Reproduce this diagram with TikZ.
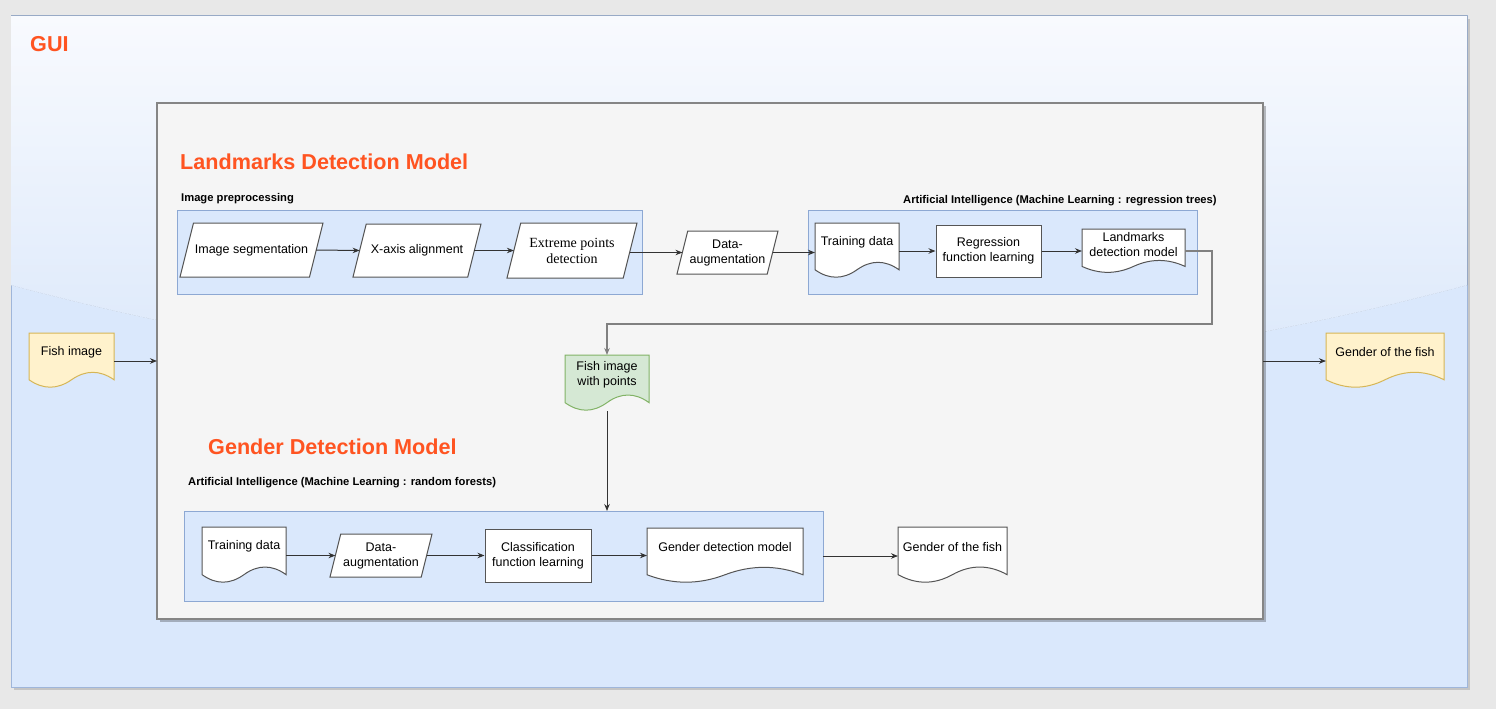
\documentclass[tikz,border=0pt]{standalone}
\usepackage{fontspec}
\setmainfont{Liberation Sans}
\newfontfamily\timesfam{Liberation Serif}
\usetikzlibrary{arrows.meta,shadows,calc}

\definecolor{pagegrey}{HTML}{E8E8E8}
\definecolor{guifill}{HTML}{DAE8FC}
\definecolor{guiline}{HTML}{9FB6DA}
\definecolor{glosstop}{HTML}{F8FAFE}
\definecolor{glossbot}{HTML}{D8E6FA}
\definecolor{glossedge}{HTML}{E0EBFB}
\definecolor{grpline}{HTML}{8DA8D3}
\definecolor{modelfill}{HTML}{F5F5F5}
\definecolor{modelline}{HTML}{858585}
\definecolor{ttl}{HTML}{FF5421}
\definecolor{boxline}{HTML}{555555}
\definecolor{linkgrey}{HTML}{333333}
\definecolor{loopgrey}{HTML}{808080}
\definecolor{yelfill}{HTML}{FFF2CC}
\definecolor{yelline}{HTML}{D6B656}
\definecolor{grnfill}{HTML}{D5E8D4}
\definecolor{grnline}{HTML}{82B366}

\pgfdeclarelayer{back}
\pgfdeclarelayer{mid}
\pgfsetlayers{back,mid,main}

\tikzset{
  box/.style={rectangle, draw=boxline, line width=1pt, fill=white, inner sep=1pt, align=center, font=\fontsize{12.5}{15}\selectfont},
  slant/.style={rectangle, inner sep=1pt, outer sep=0pt, align=center, font=\fontsize{12.5}{15}\selectfont},
  doc/.style={rectangle, inner sep=1pt, outer sep=0pt, align=center, font=\fontsize{12.5}{15}\selectfont},
  group/.style={rectangle, draw=grpline, fill=guifill, line width=1pt, inner sep=0pt, outer sep=0pt},
  title/.style={anchor=base west, inner sep=0pt, text=ttl, font=\bfseries\fontsize{21.6}{26}\selectfont},
  caption/.style={anchor=base west, inner sep=0pt, font=\bfseries\fontsize{11.2}{13}\selectfont},
  link/.style={-{Stealth[length=7pt, width=5.5pt]}, line width=1pt, draw=linkgrey},
}

% wavy lower edge of a document node, drawn below the text
\newcommand{\docframe}[3]{%
  \begin{pgfonlayer}{mid}
  \path[fill=#2, draw=#3, line width=1pt]
    let \p1=(#1.north west), \p2=(#1.south east), \n1={(\y1-\y2)/0.7}, \n2={\x2-\x1} in
    (\p1) -- (\x2,\y1) -- (\x2,{\y1-0.85*\n1})
    .. controls ({\x2-\n2/6},{\y1-0.67*\n1}) and ({\x1+2*\n2/3},{\y1-0.67*\n1}) .. ({\x1+\n2/2},{\y1-0.85*\n1})
    .. controls ({\x1+\n2/3},{\y1-1.03*\n1}) and ({\x1+\n2/6},{\y1-1.03*\n1}) .. (\x1,{\y1-0.85*\n1})
    -- cycle;
  \end{pgfonlayer}}

% leaning outline of a data node
\newcommand{\slantframe}[1]{%
  \begin{pgfonlayer}{mid}
  \path[fill=white, draw=boxline, line width=1pt]
    let \p1=(#1.north west), \p2=(#1.south east), \n1={(\y1-\y2)/4} in
    ({\x1+\n1},\y1) -- (\x2,\y1) -- ({\x2-\n1},\y2) -- (\x1,\y2) -- cycle;
  \end{pgfonlayer}}

\begin{document}
\begin{tikzpicture}[x=1pt, y=-1pt]
    \begin{pgfonlayer}{back}
        \fill[pagegrey] (0,0) rectangle (1496,709);
        \node[group, draw=guiline, minimum width=1456pt, minimum height=671pt, drop shadow={shadow xshift=3pt, shadow yshift=-3pt, fill=black, opacity=0.15}] (gui) at (739,351.5) {};
        \fill[top color=glosstop, bottom color=glossbot] (gui.north west) -- (gui.north east) -- (1467,285) .. controls (981.7,414.3) and (496.3,414.3) .. (11,285) -- cycle;
        \draw[glossedge, line width=0.8pt] (1467,285) .. controls (981.7,414.3) and (496.3,414.3) .. (11,285);
        \node[rectangle, draw=modelline, fill=modelfill, line width=1.2pt, inner sep=0pt, outer sep=0pt, minimum width=1106pt, minimum height=516pt, drop shadow={shadow xshift=2.5pt, shadow yshift=-2.5pt, fill=black, opacity=0.25}] (model) at (710,361) {};
        \node[group, minimum width=465pt, minimum height=84pt] (prep) at (409.5,252) {};
        \node[group, minimum width=389pt, minimum height=84pt] (regtrees) at (1002.5,252) {};
        \node[group, minimum width=639pt, minimum height=90pt] (forests) at (503.5,556) {};
    \end{pgfonlayer}
    \useasboundingbox (0,0) rectangle (1496,709);

    \node[title] (guititle) at (30,52) {GUI};
    \node[title] (ldmtitle) at (180,169) {Landmarks Detection Model};
    \node[title] (gdmtitle) at (208,454) {Gender Detection Model};
    \node[caption] (preptitle) at (181,201) {Image preprocessing};
    \node[caption] (regtitle) at (903,203) {Artificial Intelligence (Machine Learning : regression trees)};
    \node[caption] (fortitle) at (188,485) {Artificial Intelligence (Machine Learning : random forests)};

    \node[slant, minimum width=143pt, minimum height=54pt] (seg) at (251.5,250) {Image segmentation};
    \node[slant, minimum width=128pt, minimum height=53pt] (xaxis) at (417,250.5) {X-axis alignment};
    \node[slant, minimum width=130pt, minimum height=55pt, font=\timesfam\fontsize{14}{16}\selectfont] (extreme) at (572,250.5) {Extreme points\\detection};
    \node[slant, minimum width=101pt, minimum height=43pt] (aug1) at (727.5,252.5) {Data-\\augmentation};
    \node[doc, minimum width=84pt, minimum height=38.5pt] (train1) at (857,242.25) {Training data};
    \node[box, minimum width=105pt, minimum height=52pt] (regr) at (988.5,251) {Regression\\function learning};
    \node[doc, minimum width=103pt, minimum height=30.8pt] (ldm) at (1133.5,244.4) {Landmarks\\detection model};

    \node[doc, minimum width=85pt, minimum height=38.5pt] (fishimg) at (71.5,352.25) {Fish image};
    \node[doc, minimum width=118pt, minimum height=38.5pt] (gendout) at (1385,352.25) {Gender of the fish};
    \node[doc, minimum width=84pt, minimum height=39.2pt] (fishpts) at (607,374.6) {Fish image\\with points};

    \node[doc, minimum width=84pt, minimum height=39.2pt] (train2) at (244,546.6) {Training data};
    \node[slant, minimum width=102pt, minimum height=43pt] (aug2) at (381,555.5) {Data-\\augmentation};
    \node[box, minimum width=106pt, minimum height=53pt] (classif) at (538,555.5) {Classification\\function learning};
    \node[doc, minimum width=156pt, minimum height=38.5pt] (gdm) at (725,547.25) {Gender detection model};
    \node[doc, minimum width=109pt, minimum height=39.2pt] (gendfish) at (952.5,546.6) {Gender of the fish};

    \slantframe{seg}
    \slantframe{xaxis}
    \slantframe{extreme}
    \slantframe{aug1}
    \slantframe{aug2}
    \docframe{fishimg}{yelfill}{yelline}
    \docframe{gendout}{yelfill}{yelline}
    \docframe{fishpts}{grnfill}{grnline}
    \docframe{train1}{white}{boxline}
    \docframe{ldm}{white}{boxline}
    \docframe{train2}{white}{boxline}
    \docframe{gdm}{white}{boxline}
    \docframe{gendfish}{white}{boxline}

    \draw[link] (model.west -| fishimg.east) -- (model.west);
    \draw[link] (model.east) -- (model.east -| gendout.west);

    \draw[link] ([xshift=-6.75pt]seg.east) -- ([xshift=6.6pt]xaxis.west);
    \draw[link] ([xshift=-6.6pt]xaxis.east) -- ([xshift=6.9pt]extreme.west);
    \draw[link] ([xshift=-6.9pt]extreme.east |- aug1.west) -- ([xshift=5.4pt]aug1.west);
    \draw[link] ([xshift=-5.4pt]aug1.east) -- (aug1.east -| train1.west);
    \draw[link] (regr.west -| train1.east) -- (regr.west);
    \draw[link] (regr.east) -- (regr.east -| ldm.west);
    \draw[link, draw=loopgrey, line width=1.3pt] (ldm.east |- regr.east) -- ++(27,0) -- ++(0,73) -| (fishpts.north);
    \draw[link] ([yshift=-17pt]fishpts.south) -- (fishpts.south |- forests.north);

    \draw[link] (aug2.west -| train2.east) -- ([xshift=5.4pt]aug2.west);
    \draw[link] ([xshift=-5.4pt]aug2.east) -- (classif.west);
    \draw[link] (classif.east) -- (classif.east -| gdm.west);
    \draw[link] (forests.east) -- (forests.east -| gendfish.west);
\end{tikzpicture}
\end{document}
